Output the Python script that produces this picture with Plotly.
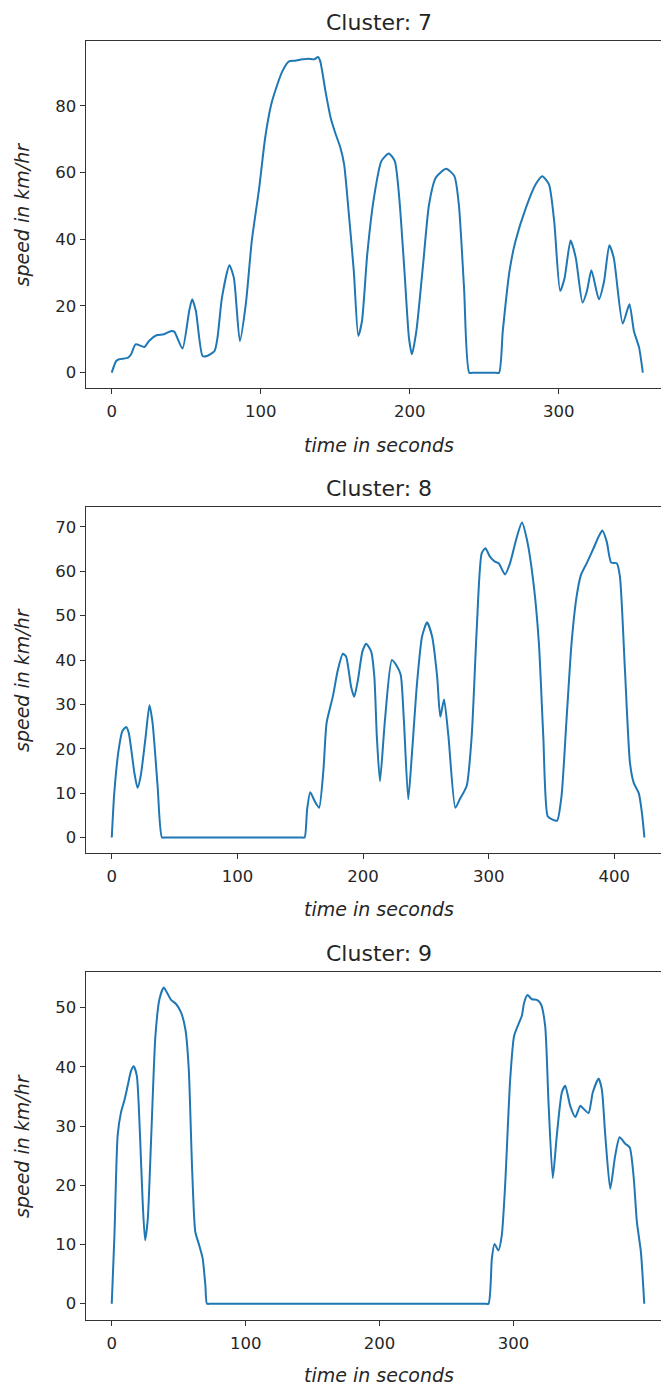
import plotly.graph_objects as go

# ---------------- data ----------------
titles = ["Cluster: 7", "Cluster: 8", "Cluster: 9"]

t7 = [0, 3, 5, 11, 13, 16, 22, 25, 30, 35,
      40, 42, 47.5, 52, 54, 56.5, 61, 64, 69, 71,
      74, 79, 82, 86, 90, 94, 99, 103, 107, 110,
      114.5, 119, 123, 128, 132, 136, 138.5, 140, 143.5, 147,
      150, 153.5, 156, 159, 162.5, 165.5, 168, 171.5, 176, 181,
      186, 190, 193, 196.5, 199.5, 201.5, 204.5, 209, 213, 217.5,
      224.5, 230, 233, 236.5, 240, 243, 257, 260, 262.5, 267,
      271, 278, 284.5, 289, 293.5, 297, 301, 304, 308, 311.5,
      316, 319, 322, 327, 330.5, 334, 337, 343, 347.5, 350.5,
      354, 356.5]
v7 = [0, 3.5, 4, 4.5, 5.5, 8.5, 7.7, 9.5, 11.2, 11.5,
      12.5, 12.3, 7.2, 18.5, 22, 18.5, 5, 5, 6.5, 10.5,
      22.5, 32.2, 28.4, 9.5, 20.5, 39.4, 55.4, 70.4, 80.3, 84.8,
      90.3, 93.3, 93.5, 93.9, 94.1, 93.9, 94.6, 93.3, 84.3, 76.3,
      71.9, 67.4, 62.4, 48.4, 30.4, 11, 15.5, 35.4, 52.4, 63.4,
      65.7, 63.4, 52.4, 30.4, 10.5, 5.5, 12.5, 32.4, 50.4, 58.4,
      61.1, 58.9, 50.4, 25.4, 0, 0, 0, 0, 12.5, 30.4,
      39.4, 49.4, 56.4, 58.9, 56.4, 45.4, 24.5, 28.4, 39.6, 34.4,
      21, 24.5, 30.7, 22, 27.4, 38.2, 34.4, 14.7, 20.5, 12.5,
      7.5, 0]

t8 = [0, 2, 5.5, 8.5, 11.5, 13.5, 18, 20.5, 23, 27,
      30, 32.5, 36.5, 40, 43, 151, 153.5, 155.5, 158, 161.5,
      165, 168.5, 171, 176, 180, 184, 186.5, 190.5, 193, 196,
      199.5, 202.5, 206.5, 209, 211, 213.5, 217.5, 223, 227, 230,
      232.5, 236, 239, 243, 247, 251, 255, 259, 261.5, 264.5,
      268, 273.5, 277, 282.5, 286.5, 290.5, 294.5, 297.5, 301, 305,
      308, 313, 317, 322.5, 326.5, 330.5, 336, 340, 343.5, 347,
      350.5, 354.5, 358, 362, 366, 370, 373.5, 378, 383.5, 387.5,
      390.5, 394, 397.5, 402, 404.5, 408.5, 412.5, 415.5, 419.5, 422,
      424]
v8 = [0, 10, 19.8, 24, 24.9, 23.6, 14.6, 11.2, 13.8, 22.8,
      29.8, 25.8, 11.6, 0, 0, 0, 0, 6.3, 10.2, 8.2,
      6.7, 15.3, 25.8, 31.8, 37.8, 41.4, 40.8, 34, 31.7, 35.6,
      41.9, 43.7, 41.9, 36.3, 22.8, 12.7, 26.6, 40, 38.6, 36.7,
      26.6, 8.6, 19.1, 34.8, 45.3, 48.5, 45.3, 36.3, 27.2, 31.1,
      22.8, 6.7, 8.6, 11.6, 22.8, 46.8, 64.1, 65.2, 63.3, 62.2,
      61.8, 59.3, 61.8, 67.8, 71, 67.1, 56.6, 43.8, 22.8, 4.8,
      4.1, 3.8, 9.3, 26.6, 43.8, 54.3, 59.2, 61.8, 65.2, 67.8,
      69.2, 66.7, 62, 61.8, 58.8, 37.8, 16.8, 12.3, 10, 5.6,
      0]

t9 = [0, 2, 4.4, 6.9, 9.4, 11.9, 14.4, 16.4, 18.7, 21.1,
      23.1, 24.9, 26.9, 29.3, 32.6, 35.6, 38.8, 41.3, 44.3, 48,
      51.7, 55, 57.5, 60, 62.4, 65.4, 67.9, 69.9, 71.1, 74,
      278, 281.3, 283.8, 285.8, 288.7, 291.2, 293.7, 297.5, 300.4, 303.7,
      306.2, 307.9, 310.4, 313.7, 317.4, 320.4, 323.6, 326.1, 329.3, 332.3,
      336.1, 338.6, 342.3, 346.1, 349.8, 352.3, 356, 359.2, 363.5, 365.9,
      368.5, 372.2, 375.9, 379.2, 383.4, 386.7, 389.6, 392.1, 395.1, 397.6]
v9 = [0, 11.5, 28.4, 32.3, 34.3, 36.8, 39.3, 40.1, 38.5, 28.4,
      17.1, 10.7, 14.3, 27.2, 45.2, 51.4, 53.4, 52.5, 51.3, 50.6,
      49.2, 46.3, 39.6, 22.8, 12.1, 9.8, 7.6, 3.1, 0, 0,
      0, 0, 7.6, 10.1, 9, 11.5, 19.9, 37.9, 45.2, 47.2,
      48.6, 50.8, 52.1, 51.4, 51.3, 50.6, 46.9, 34, 21.2, 28.4,
      35.7, 36.8, 33.4, 31.5, 33.4, 32.9, 32.2, 35.7, 38, 36.2,
      28.4, 19.4, 25, 28.1, 27, 26.4, 21.6, 13.8, 8.7, 0]

x_ticks = [[0, 100, 200, 300], [0, 100, 200, 300, 400], [0, 100, 200, 300]]
y_ticks = [[0, 20, 40, 60, 80], [0, 10, 20, 30, 40, 50, 60, 70],
           [0, 10, 20, 30, 40, 50]]
x_ranges = [[-17.6, 368.7], [-20.9, 437.2], [-19.6, 410.1]]
y_ranges = [[-4.6, 99.4], [-3.5, 74.5], [-2.75, 56.0]]

series = [(t7, v7), (t8, v8), (t9, v9)]

# ---------------- layout geometry (pixels) ----------------
W, H = 661, 1387
LEFT = 85.5
boxes = [(41, 388), (507, 853), (972, 1320)]       # top, bottom of each axes
title_y = [22, 488, 953]
xlabel_y = [445, 909, 1375]
ylabel_x = 22

FONT = "DejaVu Sans"
TXT = "#262626"
LINE = "#1f77b4"

fig = go.Figure()
annotations = []

for i, ((t, v), (top, bot)) in enumerate(zip(series, boxes)):
    n = i + 1
    xa = "x" if n == 1 else f"x{n}"
    ya = "y" if n == 1 else f"y{n}"
    fig.add_trace(go.Scatter(
        x=t, y=v, mode="lines", xaxis=xa, yaxis=ya,
        line=dict(color=LINE, width=2, shape="spline", smoothing=0.6),
        hoverinfo="skip", showlegend=False))

    dom_y = [1 - bot / H, 1 - top / H]
    axis_common = dict(
        showgrid=False, zeroline=False, showline=True,
        linecolor="#333333", linewidth=1,
        ticks="outside", ticklen=5, tickwidth=1, tickcolor="#333333",
        tickfont=dict(family=FONT, size=16.5, color=TXT),
    )
    fig.layout[f"xaxis{'' if n == 1 else n}"] = dict(
        axis_common, domain=[LEFT / W, 1.0], range=x_ranges[i],
        anchor=ya, mirror=True, tickmode="array", tickvals=x_ticks[i],
        ticklabelstandoff=3)
    fig.layout[f"yaxis{'' if n == 1 else n}"] = dict(
        axis_common, domain=dom_y, range=y_ranges[i],
        anchor=xa, mirror=False, tickmode="array", tickvals=y_ticks[i])

    cx = (LEFT + 672) / 2 / W
    annotations.append(dict(
        text=titles[i], x=cx, y=1 - title_y[i] / H, xref="paper", yref="paper",
        xanchor="center", yanchor="middle", showarrow=False,
        font=dict(family=FONT, size=22, color=TXT)))
    annotations.append(dict(
        text="<i>time in seconds</i>", x=cx, y=1 - xlabel_y[i] / H,
        xref="paper", yref="paper", xanchor="center", yanchor="middle",
        showarrow=False, font=dict(family=FONT, size=19, color=TXT)))
    annotations.append(dict(
        text="<i>speed in km/hr</i>", x=ylabel_x / W,
        y=1 - (top + bot) / 2 / H, xref="paper", yref="paper",
        xanchor="center", yanchor="middle", textangle=-90, showarrow=False,
        font=dict(family=FONT, size=19, color=TXT)))

fig.update_layout(
    width=W, height=H, autosize=False,
    margin=dict(l=0, r=0, t=0, b=0),
    paper_bgcolor="white", plot_bgcolor="white",
    showlegend=False, annotations=annotations,
)

fig.write_html("out.html", config={"displayModeBar": False})
